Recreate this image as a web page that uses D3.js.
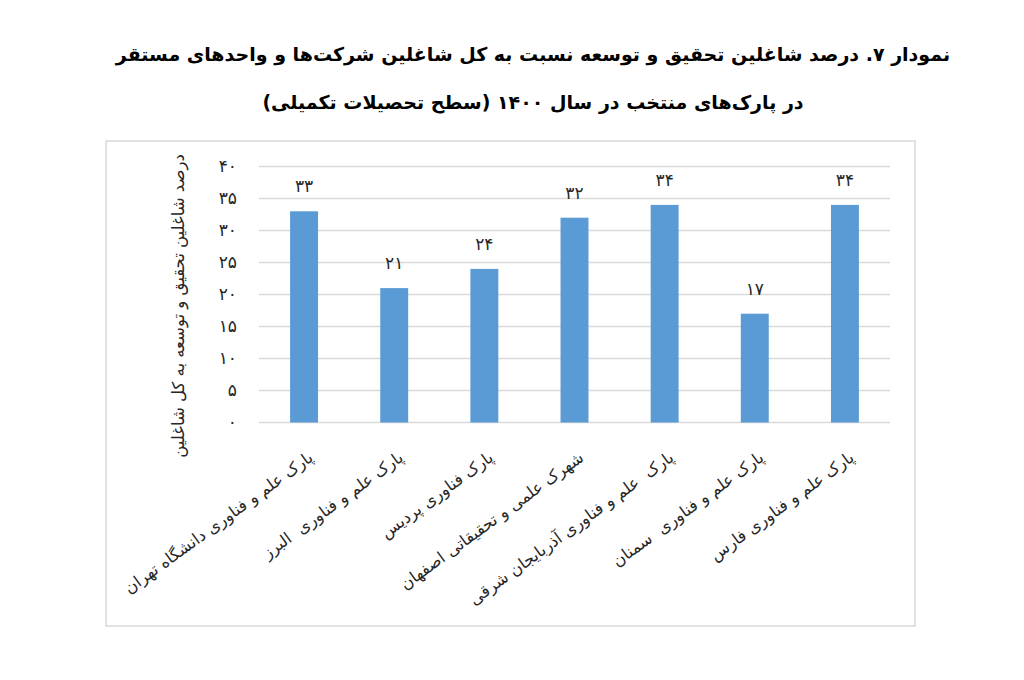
<!DOCTYPE html>
<html>
<head>
<meta charset="utf-8">
<script src="https://cdn.jsdelivr.net/npm/d3@7"></script>
<style>
  body { margin: 0; background: #fff; }
  text { font-family: "DejaVu Sans", sans-serif; white-space: pre; }
</style>
</head>
<body>
<div id="chart"></div>
<script>
// data
const titleLines = [
  "نمودار ۷. درصد شاغلین تحقیق و توسعه نسبت به کل شاغلین شرکت‌ها و واحدهای مستقر",
  "در پارک‌های منتخب در سال ۱۴۰۰ (سطح تحصیلات تکمیلی)"
];
const yTitle = "درصد شاغلین تحقیق و توسعه به کل شاغلین";
const categories = [
  "پارک علم و فناوری دانشگاه تهران",
  "پارک علم و فناوری  البرز",
  "پارک فناوری پردیس",
  "شهرک علمی و تحقیقاتی اصفهان",
  "پارک  علم و فناوری آذربایجان شرقی",
  "پارک علم و فناوری  سمنان",
  "پارک علم و فناوری فارس"
];
const values = [33, 21, 24, 32, 34, 17, 34];
const yTicks = [0, 5, 10, 15, 20, 25, 30, 35, 40];
const yTickLabels = ["۰", "۵", "۱۰", "۱۵", "۲۰", "۲۵", "۳۰", "۳۵", "۴۰"];

const width = 1024;
const height = 680;

// persian digits for the value labels
const faDigits = "۰۱۲۳۴۵۶۷۸۹";
const toFa = n => String(n).replace(/\d/g, d => faDigits[+d]);

const svg = d3.select("#chart")
  .append("svg")
  .attr("width", width)
  .attr("height", height);

// outer frame
svg.append("rect")
  .attr("x", 106)
  .attr("y", 141)
  .attr("width", 809)
  .attr("height", 485)
  .attr("fill", "none")
  .attr("stroke", "#d9d9d9")
  .attr("stroke-width", 1.5);

// title
svg.selectAll(".title")
  .data(titleLines)
  .enter().append("text")
  .attr("class", "title")
  .attr("x", 533)
  .attr("y", (d, i) => 61 + i * 48)
  .attr("text-anchor", "middle")
  .attr("font-size", 19)
  .attr("font-weight", "bold")
  .attr("fill", "#000")
  .text(d => d);

const x = d3.scaleBand()
  .domain(categories)
  .range([259, 890])
  .paddingInner(0.69)
  .paddingOuter(0.345);

const y = d3.scaleLinear()
  .domain([0, 40])
  .range([422.5, 166.5]);

// gridlines
svg.selectAll(".grid")
  .data(yTicks)
  .enter().append("line")
  .attr("class", "grid")
  .attr("x1", 259)
  .attr("x2", 890)
  .attr("y1", d => y(d))
  .attr("y2", d => y(d))
  .attr("stroke", "#d9d9d9")
  .attr("stroke-width", 1.3);

// y tick labels
svg.selectAll(".ytick")
  .data(yTicks)
  .enter().append("text")
  .attr("class", "ytick")
  .attr("x", 237)
  .attr("y", d => y(d))
  .attr("dy", "0.35em")
  .attr("text-anchor", "end")
  .attr("font-size", 17)
  .attr("fill", "#262626")
  .text((d, i) => yTickLabels[i]);

// y axis title
svg.append("text")
  .attr("transform", "translate(178,306) rotate(-90)")
  .attr("text-anchor", "middle")
  .attr("dy", "0.35em")
  .attr("font-size", 16.5)
  .attr("fill", "#262626")
  .text(yTitle);

// bars
svg.selectAll(".bar")
  .data(values)
  .enter().append("rect")
  .attr("class", "bar")
  .attr("x", (d, i) => x(categories[i]))
  .attr("y", d => y(d))
  .attr("width", x.bandwidth())
  .attr("height", d => y(0) - y(d))
  .attr("fill", "#5b9bd5");

// value labels
svg.selectAll(".val")
  .data(values)
  .enter().append("text")
  .attr("class", "val")
  .attr("x", (d, i) => x(categories[i]) + x.bandwidth() / 2)
  .attr("y", d => y(d) - 19)
  .attr("text-anchor", "middle")
  .attr("font-size", 17)
  .attr("fill", "#262626")
  .text(d => toFa(d));

// category labels, rotated
svg.selectAll(".cat")
  .data(categories)
  .enter().append("text")
  .attr("class", "cat")
  .attr("transform", d => `translate(${x(d) + x.bandwidth() / 2 + 3},450) rotate(-36)`)
  .attr("text-anchor", "end")
  .attr("dy", "0.75em")
  .attr("font-size", 16.3)
  .attr("fill", "#262626")
  .text(d => d);
</script>
</body>
</html>
